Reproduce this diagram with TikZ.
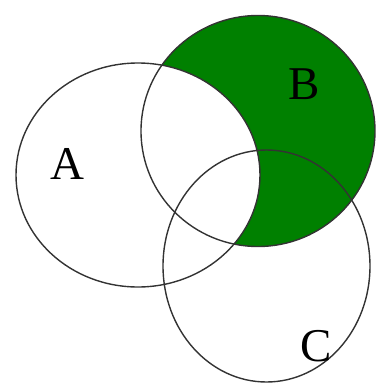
\documentclass[tikz,border=0pt]{standalone}
\usepackage{fontspec}
\setmainfont{Liberation Serif}
\definecolor{vgreen}{RGB}{0,128,0}
\begin{document}
\begin{tikzpicture}[x=1pt,y=-1pt,
  outline/.style={draw=black!80,line width=1.4pt},
  lbl/.style={font=\fontsize{47}{47}\selectfont,inner sep=0pt}]
\useasboundingbox (0,0) rectangle (377,384);
\fill[vgreen] (258,131) ellipse [x radius=117,y radius=115.5];
\fill[white] (138,175) ellipse [x radius=122,y radius=112];
\draw[outline] (138,175) ellipse [x radius=122,y radius=112];
\draw[outline] (258,131) ellipse [x radius=117,y radius=115.5];
\draw[outline] (266.5,266) ellipse [x radius=103.5,y radius=116];
\node[lbl] (A) at (67,164) {A};
\node[lbl] (B) at (304,84) {B};
\node[lbl] (C) at (316,346) {C};
\end{tikzpicture}
\end{document}
